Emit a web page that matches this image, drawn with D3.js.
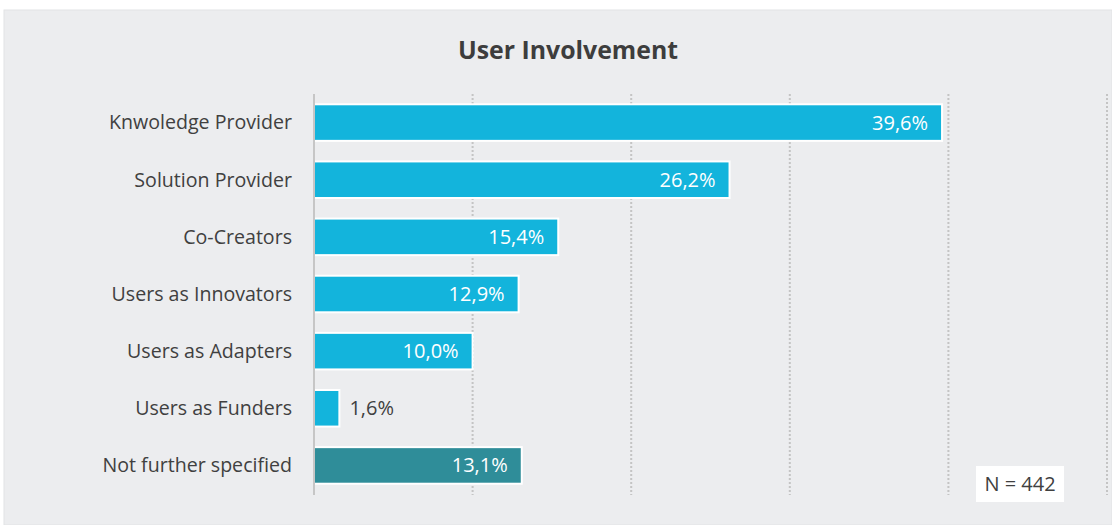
<!DOCTYPE html>
<html>
<head>
<meta charset="utf-8">
<script src="https://cdn.jsdelivr.net/npm/d3@7"></script>
<style>
  body { margin: 0; background: #fff; }
  svg { display: block; font-family: "Open Sans", "Noto Sans", sans-serif; }
</style>
</head>
<body>
<svg id="chart" width="1112" height="525"></svg>
<script>
// Chart data
const categories = ["Knwoledge Provider", "Solution Provider", "Co-Creators", "Users as Innovators",
    "Users as Adapters", "Users as Funders", "Not further specified"];
const values = [39.6, 26.2, 15.4, 12.9, 10.0, 1.6, 13.1];
const ticks = [0, 10, 20, 30, 40, 50];
const title = "User Involvement";
const note = "N = 442";

const svg = d3.select("#chart");
const width = 1112, height = 525;

// Panel background
svg.append("rect")
    .attr("x", 4).attr("y", 10)
    .attr("width", width - 4).attr("height", height - 10)
    .attr("fill", "#ecedef")
    .attr("stroke", "#e2e3e5");

svg.append("text")
    .attr("x", 568).attr("y", 59)
    .attr("text-anchor", "middle")
    .attr("font-size", 25)
    .attr("font-weight", "bold")
    .attr("fill", "#3d3d3d")
    .attr("textLength", 220)
    .attr("lengthAdjust", "spacingAndGlyphs")
    .text(title);

const x = d3.scaleLinear().domain([0, 50]).range([314, 1107]);
const y = d3.scaleBand().domain(categories).range([94, 494]).paddingInner(0.36).paddingOuter(0.18);

// Gridlines
svg.append("g")
    .selectAll("line")
    .data(ticks.slice(1))
    .join("line")
    .attr("x1", d => x(d)).attr("x2", d => x(d))
    .attr("y1", 94).attr("y2", 495)
    .attr("stroke", "#c4c4c4")
    .attr("stroke-width", 2)
    .attr("stroke-dasharray", "2,2");

// Bars
svg.append("g")
    .selectAll("rect")
    .data(values)
    .join("rect")
    .attr("x", x(0))
    .attr("y", (d, i) => y(categories[i]))
    .attr("width", d => x(d) - x(0))
    .attr("height", y.bandwidth())
    .attr("fill", (d, i) => i === categories.length - 1 ? "#2f8d99" : "#13b4dc")
    .attr("stroke", "#fff")
    .attr("stroke-width", 2);

// Axis line
svg.append("line")
    .attr("x1", x(0)).attr("x2", x(0))
    .attr("y1", 94).attr("y2", 495)
    .attr("stroke", "#c6c6c6")
    .attr("stroke-width", 2);

// Category labels
svg.append("g")
    .selectAll("text")
    .data(categories)
    .join("text")
    .attr("x", 292)
    .attr("y", d => y(d) + y.bandwidth() / 2)
    .attr("dy", "0.35em")
    .attr("text-anchor", "end")
    .attr("font-size", 19.6)
    .attr("fill", "#404040")
    .text(d => d);

// Value labels
const fmt = v => v.toFixed(1).replace(".", ",") + "%";
const inside = d => x(d) - x(0) > 60;
svg.append("g")
    .selectAll("text")
    .data(values)
    .join("text")
    .attr("x", d => inside(d) ? x(d) - 14 : x(d) + 10)
    .attr("y", (d, i) => y(categories[i]) + y.bandwidth() / 2)
    .attr("dy", "0.35em")
    .attr("text-anchor", d => inside(d) ? "end" : "start")
    .attr("font-size", 20)
    .attr("fill", d => inside(d) ? "#fff" : "#404040")
    .text(fmt);

// N note
svg.append("rect")
    .attr("x", 976).attr("y", 466)
    .attr("width", 88).attr("height", 36)
    .attr("fill", "#fff");
svg.append("text")
    .attr("x", 1020).attr("y", 484)
    .attr("dy", "0.35em")
    .attr("text-anchor", "middle")
    .attr("font-size", 20)
    .attr("fill", "#404040")
    .text(note);
</script>
</body>
</html>
